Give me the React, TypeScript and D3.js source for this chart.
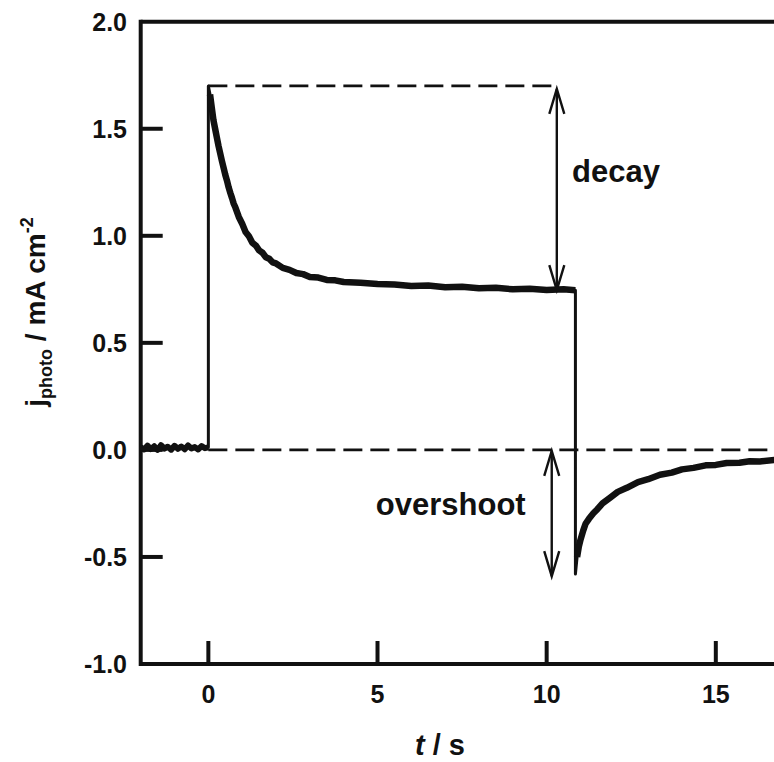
import React from "react";
import * as d3 from "d3";

// ---- data ----
const preT = [-2.0, -1.9, -1.8, -1.7, -1.6, -1.5, -1.4, -1.3, -1.2, -1.1, -1.0, -0.9, -0.8, -0.7, -0.6, -0.5, -0.4, -0.3, -0.2, -0.1, 0.0];
const preJ = [0.012, 0.002, 0.02, 0.004, 0.017, 0.0, 0.022, 0.006, 0.015, 0.001, 0.019, 0.005, 0.016, 0.003, 0.021, 0.007, 0.013, 0.002, 0.018, 0.008, 0.012];

const decayT = [0.0, 0.05, 0.1, 0.15, 0.2, 0.25, 0.3, 0.35, 0.4, 0.45, 0.5, 0.55, 0.6, 0.65, 0.7, 0.75, 0.8, 0.9, 1.0, 1.1, 1.2, 1.3, 1.4, 1.5, 1.6, 1.7, 1.8, 1.9, 2.0, 2.2, 2.4, 2.6, 2.8, 3.0, 3.25, 3.5, 3.75, 4.0, 4.5, 5.0, 5.5, 6.0, 6.5, 7.0, 7.5, 8.0, 8.5, 9.0, 9.5, 10.0, 10.5, 10.85];
const decayJ = [1.7, 1.66, 1.6, 1.54, 1.5, 1.46, 1.42, 1.385, 1.35, 1.318, 1.285, 1.258, 1.226, 1.2, 1.176, 1.15, 1.132, 1.088, 1.056, 1.018, 0.998, 0.968, 0.955, 0.932, 0.921, 0.9, 0.893, 0.876, 0.871, 0.85, 0.841, 0.826, 0.821, 0.808, 0.805, 0.794, 0.792, 0.784, 0.781, 0.775, 0.773, 0.766, 0.768, 0.76, 0.762, 0.755, 0.757, 0.75, 0.753, 0.747, 0.75, 0.746];

const recovT = [10.85, 10.9, 10.95, 11.0, 11.08, 11.15, 11.25, 11.38, 11.5, 11.65, 11.87, 12.1, 12.37, 12.7, 13.0, 13.35, 13.7, 14.0, 14.34, 14.7, 15.0, 15.32, 15.7, 16.0, 16.3, 16.75, 17.2];
const recovJ = [-0.58, -0.5, -0.452, -0.42, -0.377, -0.345, -0.322, -0.296, -0.277, -0.25, -0.224, -0.196, -0.177, -0.15, -0.137, -0.116, -0.106, -0.091, -0.084, -0.072, -0.07, -0.061, -0.06, -0.053, -0.054, -0.047, -0.045];

const xTicks = [0, 5, 10, 15];
const xTickLabels = ["0", "5", "10", "15"];
const yTicks = [-1.0, -0.5, 0.0, 0.5, 1.0, 1.5, 2.0];
const yTickLabels = ["-1.0", "-0.5", "0.0", "0.5", "1.0", "1.5", "2.0"];

const peakLevel = 1.7;
const plateauLevel = 0.746;
const overshootLevel = -0.59;
const decayArrowT = 10.3;
const overshootArrowT = 10.15;
const decayLabelPos = [10.75, 1.25];
const overshootLabelPos = [4.95, -0.3];

const FONT = "'Liberation Sans', Arial, Helvetica, sans-serif";

export default function App() {
  const W = 774;
  const H = 762;
  const left = 140.7;
  const top = 21.7;
  const bottom = 664;
  const x = d3.scaleLinear().domain([-2, 18]).range([left, left + 20 * 33.83]);
  const y = d3.scaleLinear().domain([-1, 2]).range([bottom, top]);

  const line = d3
    .line<[number, number]>()
    .x((d) => x(d[0]))
    .y((d) => y(d[1]));

  const pre: [number, number][] = preT.map((t, i) => [t, preJ[i]]);
  const dec: [number, number][] = decayT.map((t, i) => [t, decayJ[i]]);
  const rec: [number, number][] = recovT.map((t, i) => [t, recovJ[i]]);
  const full = [...pre, ...dec, ...rec];

  const arrowHead = (px: number, py: number, dir: number) => {
    const L = 25;
    const hw = 7.5;
    return `M${px - hw},${py - dir * L} L${px},${py} L${px + hw},${py - dir * L}`;
  };

  const dx = x(decayArrowT);
  const ox = x(overshootArrowT);

  return (
    <svg width={W} height={H} style={{ position: "absolute", left: 0, top: 0, background: "#fff" }}>
      <defs>
        <clipPath id="plot">
          <rect x={left} y={top - 3} width={W - left} height={bottom - top + 3} />
        </clipPath>
      </defs>
      <rect width={W} height={H} fill="#fff" />

      {/* dashed reference lines */}
      <g stroke="#111" strokeWidth={2.7} strokeDasharray="19 8" fill="none">
        <line x1={x(0)} x2={dx} y1={y(peakLevel)} y2={y(peakLevel)} />
        <line x1={x(0)} x2={W + 10} y1={y(0)} y2={y(0)} />
      </g>

      {/* arrows */}
      <g stroke="#111" strokeWidth={2.4} fill="none" strokeLinejoin="miter">
        <line x1={dx} x2={dx} y1={y(peakLevel) + 3} y2={y(plateauLevel)} />
        <path d={arrowHead(dx, y(peakLevel) + 3, -1)} />
        <path d={arrowHead(dx, y(plateauLevel), 1)} />
        <line x1={ox} x2={ox} y1={y(0) + 1} y2={y(overshootLevel)} />
        <path d={arrowHead(ox, y(0) + 1, -1)} />
        <path d={arrowHead(ox, y(overshootLevel), 1)} />
      </g>

      {/* data */}
      <g clipPath="url(#plot)" fill="none" stroke="#111" strokeLinejoin="round">
        <path d={line(full) || ""} strokeWidth={3} />
        <path d={line(pre) || ""} strokeWidth={6} />
        <path d={line(dec.slice(1)) || ""} strokeWidth={6.5} />
        <path d={line(rec.slice(1)) || ""} strokeWidth={6.5} />
      </g>

      {/* frame */}
      <g stroke="#111" strokeWidth={4} fill="none">
        <line x1={left} x2={W + 5} y1={top} y2={top} />
        <line x1={left} x2={W + 5} y1={bottom} y2={bottom} />
        <line x1={left} x2={left} y1={top - 2} y2={bottom + 2} />
        {xTicks.map((t) => (
          <line key={"xt" + t} x1={x(t)} x2={x(t)} y1={bottom} y2={bottom - 23} />
        ))}
        {yTicks
          .filter((v) => v > -1 && v < 2)
          .map((v) => (
            <line key={"yt" + v} x1={left} x2={left + 22} y1={y(v)} y2={y(v)} />
          ))}
      </g>

      {/* tick labels */}
      <g fontFamily={FONT} fontWeight="bold" fontSize={25} fill="#111">
        {yTicks.map((v, i) => (
          <text key={"yl" + v} x={127} y={y(v) + 9} textAnchor="end">
            {yTickLabels[i]}
          </text>
        ))}
        {xTicks.map((t, i) => (
          <text key={"xl" + t} x={x(t)} y={703} textAnchor="middle">
            {xTickLabels[i]}
          </text>
        ))}
      </g>

      {/* axis titles */}
      <text x={440} y={755} textAnchor="middle" fontFamily={FONT} fontWeight="bold" fontSize={29} fill="#111">
        <tspan fontStyle="italic">t</tspan>
        <tspan> / s</tspan>
      </text>
      <text
        transform="translate(45,312) rotate(-90)"
        textAnchor="middle"
        fontFamily={FONT}
        fontWeight="bold"
        fontSize={28}
        fill="#111"
      >
        <tspan>j</tspan>
        <tspan fontSize={18} dy={7}>photo</tspan>
        <tspan dy={-7}> / mA cm</tspan>
        <tspan fontSize={18} dy={-12}>-2</tspan>
      </text>

      {/* annotations */}
      <g fontFamily={FONT} fontWeight="bold" fontSize={31} fill="#111">
        <text x={x(decayLabelPos[0])} y={182}>decay</text>
        <text x={x(overshootLabelPos[0])} y={515}>overshoot</text>
      </g>
    </svg>
  );
}
